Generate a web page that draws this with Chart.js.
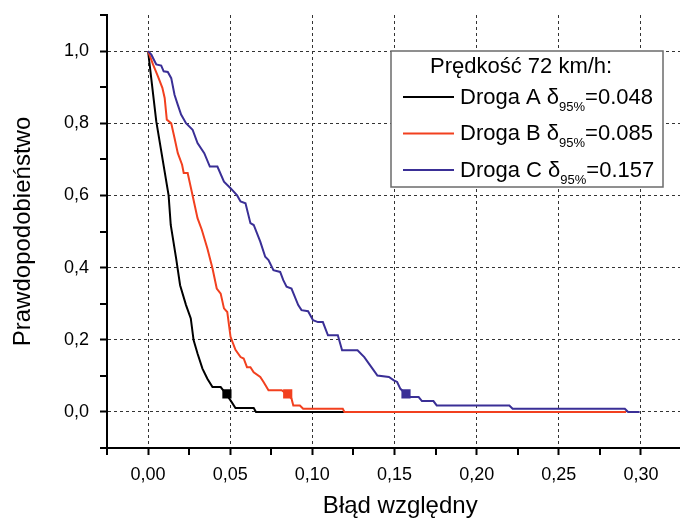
<!DOCTYPE html>
<html>
<head>
<meta charset="utf-8">
<script src="https://cdn.jsdelivr.net/npm/chart.js@4/dist/chart.umd.min.js"></script>
<style>
    html, body { margin: 0; padding: 0; background: #fff; overflow: hidden; }
    #wrap { width: 700px; height: 518px; position: relative; }
</style>
</head>
<body>
<div id="wrap"><canvas id="errorChart"></canvas></div>
<script>
// Droga A
const xA = [0, 0.005, 0.0125, 0.0138, 0.0171, 0.0195, 0.0231, 0.026, 0.0277, 0.0301, 0.0331, 0.0361, 0.0392, 0.0442, 0.0476, 0.0502, 0.0532, 0.0643, 0.0657, 0.1195];
const yA = [1.0, 0.805, 0.6, 0.518, 0.425, 0.351, 0.296, 0.259, 0.199, 0.162, 0.12, 0.092, 0.069, 0.069, 0.049, 0.032, 0.011, 0.011, 0, 0];

// Droga B
const xB = [0, 0.003, 0.006, 0.0087, 0.0101, 0.0114, 0.0141, 0.0161, 0.0181, 0.0207, 0.0217, 0.0241, 0.0271, 0.0301, 0.0327, 0.0361, 0.0392, 0.0418, 0.0442, 0.0462, 0.0482, 0.0502, 0.0532, 0.0563, 0.0582, 0.0602, 0.0623, 0.0643, 0.0683, 0.0703, 0.0733, 0.0813, 0.085, 0.0873, 0.0884, 0.0924, 0.0944, 0.1185, 0.1195, 0.291];
const yB = [1.0, 0.963, 0.93, 0.898, 0.87, 0.81, 0.8, 0.759, 0.717, 0.685, 0.662, 0.662, 0.6, 0.537, 0.505, 0.453, 0.398, 0.342, 0.328, 0.287, 0.277, 0.208, 0.172, 0.152, 0.148, 0.124, 0.124, 0.11, 0.097, 0.083, 0.06, 0.06, 0.048, 0.037, 0.018, 0.018, 0.009, 0.009, 0, 0];

// Droga C
const xC = [0, 0.002, 0.004, 0.005, 0.008, 0.0095, 0.012, 0.0141, 0.0161, 0.0181, 0.0201, 0.0231, 0.0271, 0.0301, 0.0342, 0.0376, 0.0422, 0.0462, 0.0502, 0.0542, 0.0563, 0.0593, 0.0623, 0.0643, 0.0683, 0.0713, 0.0733, 0.0763, 0.0804, 0.0823, 0.0843, 0.0873, 0.0914, 0.0934, 0.0974, 0.1004, 0.1034, 0.1064, 0.1095, 0.1155, 0.1181, 0.1275, 0.1316, 0.1366, 0.1396, 0.1466, 0.1496, 0.1516, 0.1536, 0.157, 0.1596, 0.1647, 0.1667, 0.1737, 0.1757, 0.2199, 0.2219, 0.2902, 0.2922, 0.2992];
const yC = [1.0, 0.99, 0.972, 0.963, 0.96, 0.944, 0.942, 0.925, 0.879, 0.851, 0.824, 0.8, 0.782, 0.745, 0.717, 0.68, 0.68, 0.638, 0.62, 0.6, 0.583, 0.578, 0.523, 0.518, 0.472, 0.43, 0.421, 0.393, 0.388, 0.365, 0.347, 0.342, 0.296, 0.282, 0.279, 0.254, 0.249, 0.249, 0.2125, 0.2125, 0.171, 0.171, 0.152, 0.12, 0.101, 0.097, 0.0875, 0.083, 0.064, 0.049, 0.041, 0.041, 0.030, 0.030, 0.018, 0.018, 0.009, 0.009, 0, 0];

const seriesNames = ['Droga A', 'Droga B', 'Droga C'];
const seriesColors = ['#000000', '#f2401f', '#3a2f96'];
const delta95 = [0.048, 0.085, 0.157];
const markY = [0.05, 0.05, 0.05];
const legendTitle = 'Prędkość 72 km/h:';

const xMajor = [0.00, 0.05, 0.10, 0.15, 0.20, 0.25, 0.30];
const xMinor = [-0.025, 0.025, 0.075, 0.125, 0.175, 0.225, 0.275, 0.325];
const yMajor = [0.0, 0.2, 0.4, 0.6, 0.8, 1.0];
const yMinor = [-0.1, 0.1, 0.3, 0.5, 0.7, 0.9, 1.1];

const FONT = '"Liberation Sans", Arial, Helvetica, sans-serif';
Chart.defaults.font.family = FONT;
Chart.defaults.color = '#000';

function toPoints(xs, ys) {
    return xs.map((x, i) => ({ x: x, y: ys[i] }));
}
function isIn(list, v) {
    return list.some(m => Math.abs(m - v) < 1e-9);
}
function setTicks(major, minor) {
    return function(axis) {
        axis.ticks = major.concat(minor).sort((a, b) => a - b).map(v => ({ value: v }));
    };
}
// fixed axis box sizes, no extra room for overhanging labels
function fixSize(prop, size) {
    return function(s) {
        s[prop] = size;
        s.paddingTop = 0;
        s.paddingBottom = 0;
        s.paddingLeft = 0;
        s.paddingRight = 0;
    };
}

// legend box with subscripts, drawn on top of the grid
const legendBox = {
    id: 'legendBox',
    afterDatasetsDraw(chart) {
        const ctx = chart.ctx;
        ctx.save();
        ctx.fillStyle = '#fff';
        ctx.fillRect(391, 51, 272, 136);
        ctx.strokeStyle = '#6b6b6b';
        ctx.lineWidth = 1.5;
        ctx.strokeRect(391, 51, 272, 136);

        ctx.fillStyle = '#000';
        ctx.textBaseline = 'alphabetic';
        ctx.textAlign = 'left';
        ctx.font = '22px ' + FONT;
        ctx.fillText(legendTitle, 430, 73);

        seriesNames.forEach((name, i) => {
            const y = 103.5 + i * 36.5;
            ctx.strokeStyle = seriesColors[i];
            ctx.lineWidth = 2;
            ctx.beginPath();
            ctx.moveTo(403, y - 6.5);
            ctx.lineTo(454, y - 6.5);
            ctx.stroke();

            let x = 460;
            ctx.font = '22px ' + FONT;
            const head = name + ' \u03b4';
            ctx.fillText(head, x, y);
            x += ctx.measureText(head).width;
            ctx.font = '13px ' + FONT;
            ctx.fillText('95%', x, y + 7);
            x += ctx.measureText('95%').width;
            ctx.font = '22px ' + FONT;
            ctx.fillText('=' + delta95[i].toFixed(3), x, y);
        });
        ctx.restore();
    }
};

const lineSets = [[xA, yA], [xB, yB], [xC, yC]].map(([xs, ys], i) => ({
    label: seriesNames[i],
    data: toPoints(xs, ys),
    showLine: true,
    borderColor: seriesColors[i],
    borderWidth: 2,
    pointRadius: 0,
    tension: 0,
    order: 2 - i
}));

new Chart(document.getElementById('errorChart'), {
    type: 'scatter',
    data: {
        datasets: lineSets.concat([{
            label: 'delta95',
            data: toPoints(delta95, markY),
            pointStyle: 'rect',
            pointRadius: 6.5,
            pointBackgroundColor: seriesColors,
            pointBorderWidth: 0,
            showLine: false,
            order: -1
        }])
    },
    options: {
        responsive: true,
        maintainAspectRatio: false,
        animation: false,
        layout: { padding: { top: 15, right: 0, left: 0, bottom: 0 } },
        plugins: {
            legend: { display: false },
            tooltip: { enabled: false }
        },
        scales: {
            x: {
                type: 'linear',
                min: -0.025,
                max: 0.332,
                afterBuildTicks: setTicks(xMajor, xMinor),
                afterFit: fixSize('height', 70),
                grid: {
                    color: '#333',
                    lineWidth: (c) => (c.tick && !isIn(xMajor, c.tick.value)) ? 0 : 1,
                    tickLength: 7,
                    tickColor: '#000',
                    tickWidth: 2
                },
                border: { display: true, color: '#000', width: 2, dash: [3, 3] },
                ticks: {
                    padding: 9,
                    maxRotation: 0,
                    autoSkip: false,
                    font: { size: 18 },
                    callback: (v) => isIn(xMajor, v) ? v.toFixed(2).replace('.', ',') : ''
                },
                title: {
                    display: true,
                    text: 'Błąd względny',
                    font: { size: 24, lineHeight: 1 },
                    padding: { top: 0, bottom: 0 }
                }
            },
            y: {
                type: 'linear',
                min: -0.1,
                max: 1.1,
                afterBuildTicks: setTicks(yMajor, yMinor),
                afterFit: fixSize('width', 107),
                grid: {
                    color: '#333',
                    lineWidth: (c) => (c.tick && !isIn(yMajor, c.tick.value)) ? 0 : 1,
                    tickLength: 7,
                    tickColor: '#000',
                    tickWidth: 2
                },
                border: { display: true, color: '#000', width: 2, dash: [3, 3] },
                ticks: {
                    padding: 11,
                    autoSkip: false,
                    font: { size: 18 },
                    callback: (v) => isIn(yMajor, v) ? v.toFixed(1).replace('.', ',') : ''
                },
                title: {
                    display: true,
                    text: 'Prawdopodobieństwo',
                    font: { size: 24, lineHeight: 1 },
                    padding: { top: 11, bottom: 0 }
                }
            }
        }
    },
    plugins: [legendBox]
});
</script>
</body>
</html>
